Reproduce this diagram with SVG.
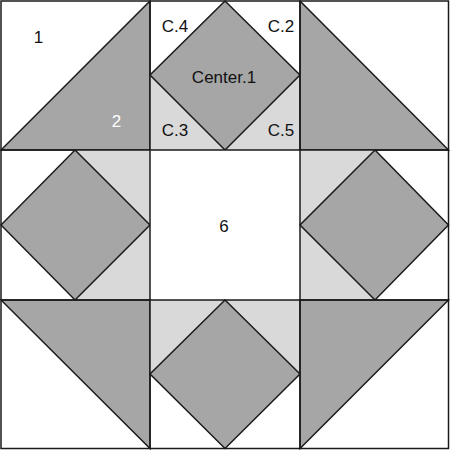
<svg xmlns="http://www.w3.org/2000/svg" width="450" height="450" viewBox="0 0 450 450">
<style>
.w{fill:#ffffff}
.d{fill:#a6a6a6}
.l{fill:#d9d9d9}
.s{stroke:#1a1a1a;stroke-width:1.5;stroke-linejoin:miter}
text{font-family:"Liberation Sans",Arial,sans-serif;font-size:17px;fill:#111;text-anchor:middle}
</style>
<rect x="0" y="0" width="450" height="450" fill="#ffffff"/>
<g id="cell-top-left">
<polygon class="d s" points="150,1 150,150 1,150"/>
</g>
<g id="cell-top-middle">
<polygon class="l" points="150,75 150,150 225,150"/>
<polygon class="l" points="300,75 300,150 225,150"/>
<polygon class="d s" points="225,1 300,75 225,150 150,75"/>
</g>
<g id="cell-top-right">
<polygon class="d s" points="300,1 300,150 448.5,150"/>
</g>
<g id="cell-mid-left">
<polygon class="l" points="75,150 150,150 150,225"/>
<polygon class="l" points="75,300 150,300 150,225"/>
<polygon class="d s" points="75,150 150,225 75,300 1,225"/>
</g>
<g id="cell-center">
<rect class="w" x="150" y="150" width="150" height="150"/>
</g>
<g id="cell-mid-right">
<polygon class="l" points="375,150 300,150 300,225"/>
<polygon class="l" points="375,300 300,300 300,225"/>
<polygon class="d s" points="375,150 448.5,225 375,300 300,225"/>
</g>
<g id="cell-bottom-left">
<polygon class="d s" points="1,300 150,300 150,448.5"/>
</g>
<g id="cell-bottom-middle">
<polygon class="l" points="150,300 225,300 150,374"/>
<polygon class="l" points="300,300 225,300 300,374"/>
<polygon class="d s" points="225,300 300,374 225,448.5 150,374"/>
</g>
<g id="cell-bottom-right">
<polygon class="d s" points="300,300 448.5,300 300,448.5"/>
</g>
<g id="grid" fill="none" class="s">
<rect x="1" y="1" width="447.5" height="447.5" fill="none"/>
<line x1="150" y1="1" x2="150" y2="448.5"/>
<line x1="300" y1="1" x2="300" y2="448.5"/>
<line x1="1" y1="150" x2="448.5" y2="150"/>
<line x1="1" y1="300" x2="448.5" y2="300"/>
</g>
<g id="labels">
<text x="38.5" y="43">1</text>
<text x="116.5" y="127" style="fill:#ffffff">2</text>
<text x="175" y="32">C.4</text>
<text x="281" y="32">C.2</text>
<text x="224" y="83">Center.1</text>
<text x="175" y="136">C.3</text>
<text x="281" y="136">C.5</text>
<text x="224" y="232">6</text>
</g>
</svg>
